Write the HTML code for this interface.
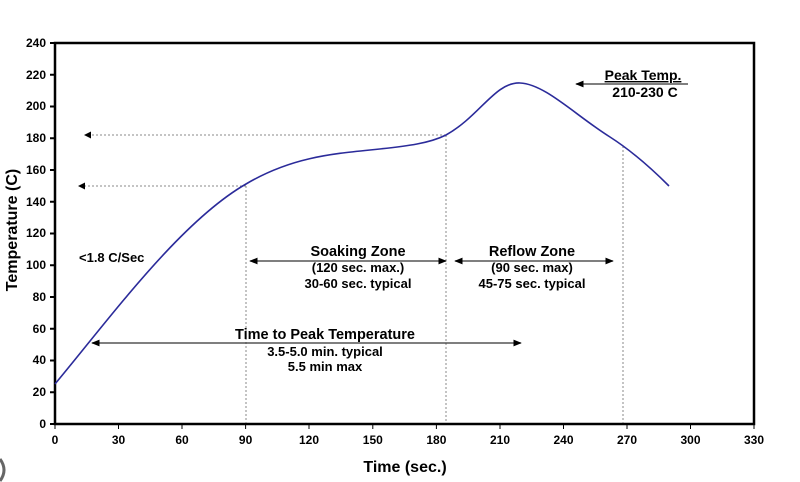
<!DOCTYPE html>
<html><head><meta charset="utf-8"><style>
html,body{margin:0;padding:0;background:#fff;}
svg{display:block;font-family:"Liberation Sans",Arial,sans-serif;font-weight:bold;}
</style></head><body>
<svg width="800" height="482" viewBox="0 0 800 482" xmlns="http://www.w3.org/2000/svg">
<defs>
<marker id="ah" viewBox="0 0 10 10" refX="9" refY="5" markerWidth="7" markerHeight="7" orient="auto-start-reverse"><path d="M0,1 L10,5 L0,9 z" fill="#000"/></marker>
</defs>
<rect x="55" y="43" width="699" height="381" fill="none" stroke="#000" stroke-width="2.5"/>
<g stroke="#000" stroke-width="2">
<line x1="50" y1="43" x2="55" y2="43"/><line x1="50" y1="74.75" x2="55" y2="74.75"/><line x1="50" y1="106.5" x2="55" y2="106.5"/><line x1="50" y1="138.25" x2="55" y2="138.25"/><line x1="50" y1="170" x2="55" y2="170"/><line x1="50" y1="201.75" x2="55" y2="201.75"/><line x1="50" y1="233.5" x2="55" y2="233.5"/><line x1="50" y1="265.25" x2="55" y2="265.25"/><line x1="50" y1="297" x2="55" y2="297"/><line x1="50" y1="328.75" x2="55" y2="328.75"/><line x1="50" y1="360.5" x2="55" y2="360.5"/><line x1="50" y1="392.25" x2="55" y2="392.25"/><line x1="50" y1="424" x2="55" y2="424"/>
</g>
<g font-size="12" text-anchor="end" fill="#000">
<text x="46" y="47">240</text><text x="46" y="79">220</text><text x="46" y="110">200</text><text x="46" y="142">180</text><text x="46" y="174">160</text><text x="46" y="206">140</text><text x="46" y="237">120</text><text x="46" y="269">100</text><text x="46" y="301">80</text><text x="46" y="333">60</text><text x="46" y="364">40</text><text x="46" y="396">20</text><text x="46" y="428">0</text>
</g>
<g stroke="#000" stroke-width="1">
<line x1="55" y1="424" x2="55" y2="429"/><line x1="118.5" y1="424" x2="118.5" y2="429"/><line x1="182" y1="424" x2="182" y2="429"/><line x1="245.6" y1="424" x2="245.6" y2="429"/><line x1="309" y1="424" x2="309" y2="429"/><line x1="372.8" y1="424" x2="372.8" y2="429"/><line x1="436.4" y1="424" x2="436.4" y2="429"/><line x1="500" y1="424" x2="500" y2="429"/><line x1="563.5" y1="424" x2="563.5" y2="429"/><line x1="627" y1="424" x2="627" y2="429"/><line x1="690.5" y1="424" x2="690.5" y2="429"/><line x1="754" y1="424" x2="754" y2="429"/>
</g>
<g font-size="12" text-anchor="middle" fill="#000">
<text x="55" y="444">0</text><text x="118.5" y="444">30</text><text x="182" y="444">60</text><text x="245.6" y="444">90</text><text x="309" y="444">120</text><text x="372.8" y="444">150</text><text x="436.4" y="444">180</text><text x="500" y="444">210</text><text x="563.5" y="444">240</text><text x="627" y="444">270</text><text x="690.5" y="444">300</text><text x="754" y="444">330</text>
</g>
<text x="405" y="472" font-size="16" text-anchor="middle">Time (sec.)</text>
<text transform="translate(17,230) rotate(-90)" font-size="16" text-anchor="middle">Temperature (C)</text>
<path d="M0,459 Q8,470 0,481" fill="none" stroke="#666" stroke-width="3"/>
<g stroke="#888" stroke-width="1" stroke-dasharray="2,2" fill="none">
<line x1="246" y1="186" x2="246" y2="423"/>
<line x1="446" y1="135" x2="446" y2="423"/>
<line x1="623" y1="146" x2="623" y2="423"/>
<line x1="446" y1="135" x2="86" y2="135"/>
<line x1="246" y1="186" x2="80" y2="186"/>
</g>
<path d="M84,135 l7,-3.5 v7 z M78,186 l7,-3.5 v7 z" fill="#000"/>
<path d="M55,384 C110,318 180,222 246,184 C290,158 330,154 370,150 C410,146 430,143 446,135 C480,116 495,82 520,83 C545,84 575,115 610,137 C635,153 655,172 669,186" fill="none" stroke="#2b2b9a" stroke-width="1.6"/>
<g stroke="#333" stroke-width="1.2">
<line x1="250" y1="261" x2="446" y2="261" marker-start="url(#ah)" marker-end="url(#ah)"/>
<line x1="455" y1="261" x2="613" y2="261" marker-start="url(#ah)" marker-end="url(#ah)"/>
<line x1="92" y1="343" x2="521" y2="343" marker-start="url(#ah)" marker-end="url(#ah)"/>
<line x1="576" y1="84" x2="688" y2="84" marker-start="url(#ah)"/>
</g>
<g font-size="13" fill="#000" text-anchor="middle">
<text x="79" y="262" text-anchor="start">&lt;1.8 C/Sec</text>
<text x="358" y="256" font-size="14.5">Soaking Zone</text>
<text x="358" y="272">(120 sec. max.)</text>
<text x="358" y="288">30-60 sec. typical</text>
<text x="532" y="256" font-size="14.5">Reflow Zone</text>
<text x="532" y="272">(90 sec. max)</text>
<text x="532" y="288">45-75 sec. typical</text>
<text x="325" y="339" font-size="14.5">Time to Peak Temperature</text>
<text x="325" y="356">3.5-5.0 min. typical</text>
<text x="325" y="371">5.5 min max</text>
<text x="643" y="80" font-size="14" text-decoration="underline">Peak Temp.</text>
<text x="645" y="97" font-size="14">210-230 C</text>
</g>
</svg>
</body></html>
